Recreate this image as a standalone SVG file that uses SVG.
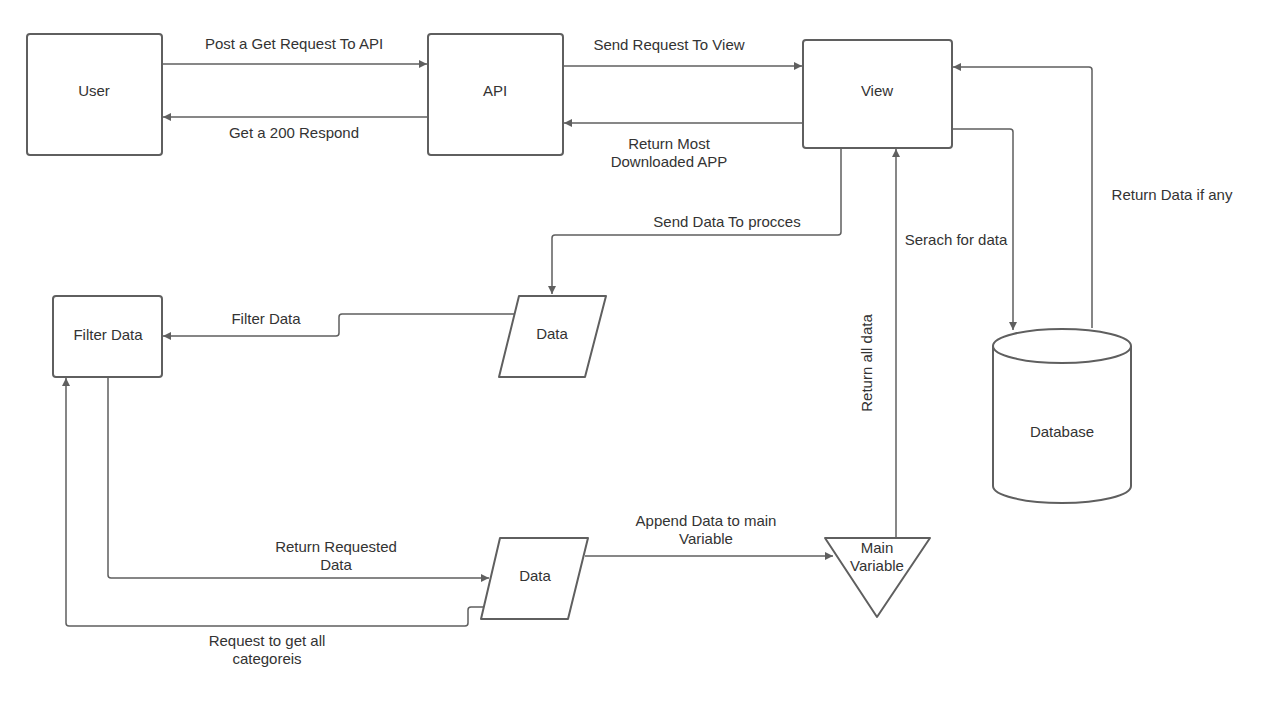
<svg xmlns="http://www.w3.org/2000/svg" width="1280" height="701" viewBox="0 0 1280 701">
<style>
.shape{fill:#fff;stroke:#5f5f5f;stroke-width:2}
.conn{fill:none;stroke:#5f5f5f;stroke-width:1.5;marker-end:url(#arr)}
text{font-family:"Liberation Sans",Arial,sans-serif;font-size:15px;fill:#333;text-anchor:middle}
</style>
<defs>
<marker id="arr" viewBox="0 0 10 10" refX="10" refY="5" markerWidth="8" markerHeight="8" markerUnits="userSpaceOnUse" orient="auto">
<path d="M0,0 L10,5 L0,10 z" fill="#5f5f5f"/>
</marker>
</defs>
<rect width="1280" height="701" fill="#fff"/>
<g id="connectors">
<path class="conn" d="M162,64 H427"/>
<path class="conn" d="M428,117 H163"/>
<path class="conn" d="M563,66 H802"/>
<path class="conn" d="M803,123 H564"/>
<path class="conn" d="M841,148 V232 Q841,235 838,235 H555 Q552,235 552,238 V294"/>
<path class="conn" d="M952,129 H1010 Q1013,129 1013,132 V330"/>
<path class="conn" d="M1092,328 V70 Q1092,67 1089,67 H953"/>
<path class="conn" d="M896,538 V149"/>
<path class="conn" d="M514,314 H342 Q339,314 339,317 V333 Q339,336 336,336 H163"/>
<path class="conn" d="M108,377 V575 Q108,578 111,578 H489"/>
<path class="conn" d="M484,607 H471 Q468,607 468,610 V623 Q468,626 465,626 H69 Q66,626 66,623 V378"/>
<path class="conn" d="M585,556 H833"/>
<text x="294" y="49">Post a Get Request To API</text>
<text x="294" y="138">Get a 200 Respond</text>
<text x="669" y="50">Send Request To View</text>
<text x="669" y="149">Return Most</text>
<text x="669" y="167">Downloaded APP</text>
<text x="727" y="227">Send Data To procces</text>
<text x="956" y="245">Serach for data</text>
<text x="1172" y="200">Return Data if any</text>
<text x="0" y="0" transform="translate(872,363) rotate(-90)">Return all data</text>
<text x="266" y="324">Filter Data</text>
<text x="336" y="552">Return Requested</text>
<text x="336" y="570">Data</text>
<text x="267" y="646">Request to get all</text>
<text x="267" y="664">categoreis</text>
<text x="706" y="526">Append Data to main</text>
<text x="706" y="544">Variable</text>
</g>
<g id="user">
<rect class="shape" x="27" y="34" width="135" height="121" rx="3"/>
<text x="94" y="96">User</text>
</g>
<g id="api">
<rect class="shape" x="428" y="34" width="135" height="121" rx="3"/>
<text x="495" y="96">API</text>
</g>
<g id="view">
<rect class="shape" x="803" y="40" width="149" height="108" rx="3"/>
<text x="877" y="96">View</text>
</g>
<g id="filter-data">
<rect class="shape" x="53" y="296" width="109" height="81" rx="3"/>
<text x="108" y="340">Filter Data</text>
</g>
<g id="data1">
<path class="shape" d="M519,296 H606 L585,377 H499 Z" stroke-linejoin="round"/>
<text x="552" y="339">Data</text>
</g>
<g id="data2">
<path class="shape" d="M500,538 H588 L568,619 H481 Z" stroke-linejoin="round"/>
<text x="535" y="581">Data</text>
</g>
<g id="main-variable">
<path class="shape" d="M825,538 H930 L877,617 Z" stroke-linejoin="round"/>
<text x="877" y="553">Main</text>
<text x="877" y="571">Variable</text>
</g>
<g id="database">
<path class="shape" d="M993,346 V486 A69,17 0 0 0 1131,486 V346"/>
<ellipse class="shape" cx="1062" cy="346" rx="69" ry="17"/>
<text x="1062" y="437">Database</text>
</g>
</svg>
